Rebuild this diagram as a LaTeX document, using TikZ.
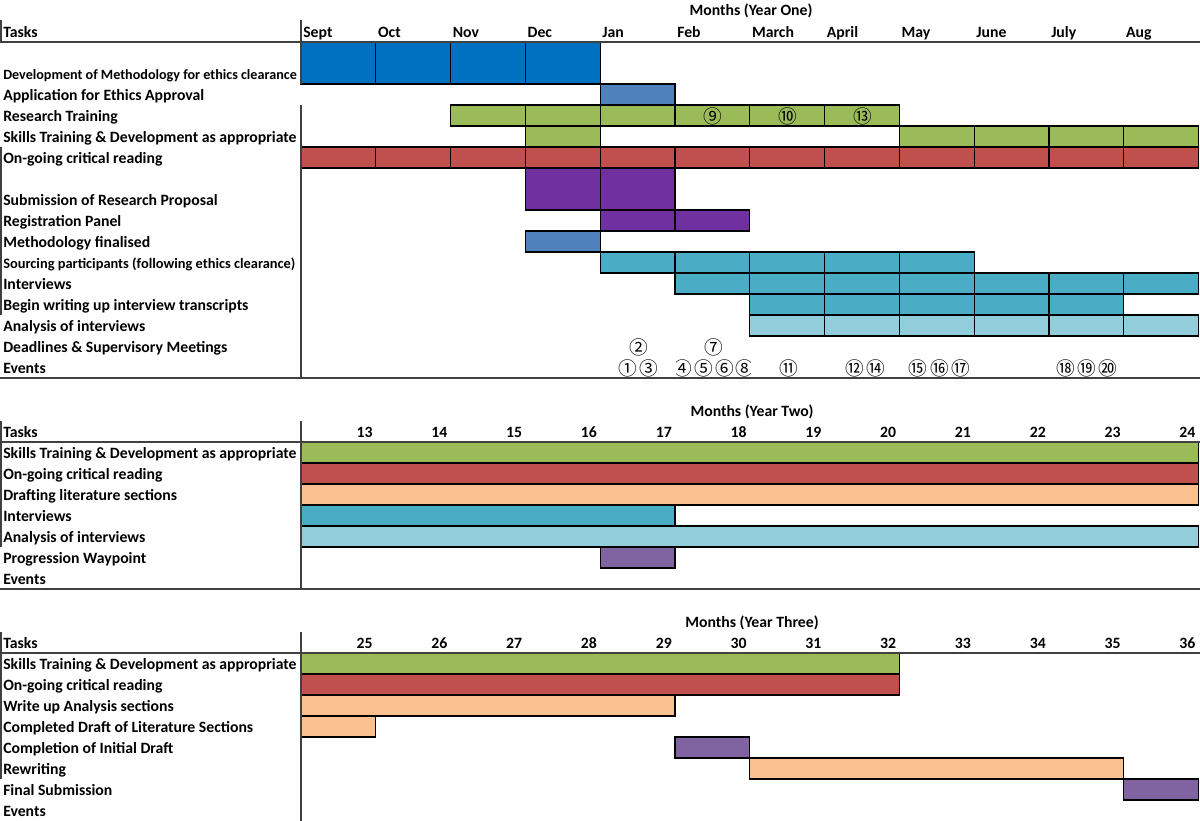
\documentclass[tikz,border=0pt]{standalone}
\usepackage{fontspec}
\setmainfont{Carlito}
\newfontfamily\circfont{Noto Sans CJK SC}
\definecolor{cDblue}{HTML}{0070C0}
\definecolor{cMblue}{HTML}{4F81BD}
\definecolor{cGreen}{HTML}{9BBB59}
\definecolor{cRed}{HTML}{C0504D}
\definecolor{cPurple}{HTML}{7030A0}
\definecolor{cTeal}{HTML}{4BACC6}
\definecolor{cLteal}{HTML}{92CDDC}
\definecolor{cPeach}{HTML}{FAC090}
\definecolor{cLav}{HTML}{8064A2}
\definecolor{cRule}{HTML}{404040}
\newcommand\ycells[5]{%
  \foreach \m in {#2,...,#3}{\draw[bar,fill=#1] ({301+74.8*\m},#4) rectangle ({301+74.8*(\m+1)},#5);}}
\newcommand\ybar[5]{%
  \draw[bar,fill=#1] ({301+74.8*#2},#4) rectangle ({301+74.8*(#3+1)},#5);}
\begin{document}
\begin{tikzpicture}[x=0.75pt,y=-0.75pt,
  font=\bfseries\fontsize{11.8}{14}\selectfont,
  bar/.style={draw=black,line width=0.8pt},
  lbl/.style={anchor=base west,inner sep=0pt},
  lblsmall/.style={lbl,font=\bfseries\fontsize{10.8}{13}\selectfont},
  mon/.style={anchor=base west,inner sep=0pt},
  num/.style={anchor=base east,inner sep=0pt},
  hdr/.style={anchor=base,inner sep=0pt},
  circ/.style={font=\circfont\fontsize{14}{16}\selectfont,inner sep=0pt,anchor=center},
  rule/.style={draw=cRule,line width=1.1pt},
  vrule/.style={draw=cRule,line width=1pt}]
\useasboundingbox (0,0) rectangle (1200,821);

% ---------------- Year One ----------------
\ycells{cDblue}{0}{3}{42}{84}
\ycells{cMblue}{4}{4}{84}{105}
\ycells{cGreen}{2}{7}{105}{126}
\ycells{cGreen}{3}{3}{126}{147}
\ycells{cGreen}{8}{11}{126}{147}
\ycells{cRed}{0}{11}{147}{168}
\ycells{cPurple}{3}{4}{168}{210}
\ycells{cPurple}{4}{5}{210}{231}
\ycells{cMblue}{3}{3}{231}{252}
\ycells{cTeal}{4}{8}{252}{273}
\ycells{cTeal}{5}{11}{273}{294}
\ycells{cTeal}{6}{10}{294}{315}
\ycells{cLteal}{6}{11}{315}{336}

\draw[rule] (0,42) -- (1200,42);
\draw[rule] (0,378) -- (1200,378);
\draw[vrule] (301,20) -- (301,84);
\draw[vrule] (301,105) -- (301,378);
\draw[vrule] (1,20) -- (1,42);
\draw[vrule] (1,147) -- (1,315);

\node[hdr] (h1) at (751,16) {Months (Year One)};
\node[lbl] (t1) at (3,37) {Tasks};
\foreach \n [count=\i from 0] in {Sept,Oct,Nov,Dec,Jan,Feb,March,April,May,June,July,Aug}
  \node[mon] (m1-\i) at ({303+74.8*\i},37) {\n};

\node[lblsmall,font=\bfseries\fontsize{10.6}{13}\selectfont] (a1) at (3,79) {Development of Methodology for ethics clearance};
\node[lbl] (a2) at (3,100) {Application for Ethics Approval};
\node[lbl] (a3) at (3,121) {Research Training};
\node[lbl] (a4) at (3,142) {Skills Training \& Development as appropriate};
\node[lbl] (a5) at (3,163) {On-going critical reading};
\node[lbl] (a6) at (3,205) {Submission of Research Proposal};
\node[lbl] (a7) at (3,226) {Registration Panel};
\node[lbl] (a8) at (3,247) {Methodology finalised};
\node[lblsmall] (a9) at (3,268) {Sourcing participants (following ethics clearance)};
\node[lbl] (a10) at (3,289) {Interviews};
\node[lbl] (a11) at (3,310) {Begin writing up interview transcripts};
\node[lbl] (a12) at (3,331) {Analysis of interviews};
\node[lbl] (a13) at (3,352) {Deadlines \& Supervisory Meetings};
\node[lbl] (a14) at (3,373) {Events};

\node[circ] (c9) at (713,116) {⑨};
\node[circ] (c10) at (788,116) {⑩};
\node[circ] (c13) at (863,116) {⑬};
\node[circ] (c2) at (639,347) {②};
\node[circ] (c7) at (714,347) {⑦};
\node[circ] (c1) at (628,368) {①};
\node[circ] (c3) at (649,368) {③};
\begin{scope}
\clip (676,357) rectangle (750,378);
\node[circ] (c4) at (683,368) {④};
\node[circ] (c5) at (703.5,368) {⑤};
\node[circ] (c6) at (724.5,368) {⑥};
\node[circ] (c8) at (745,368) {⑧};
\end{scope}
\node[circ] (c11) at (789,368) {⑪};
\node[circ] (c12) at (855,368) {⑫};
\node[circ] (c14) at (876,368) {⑭};
\node[circ] (c15) at (918,368) {⑮};
\node[circ] (c16) at (939.5,368) {⑯};
\node[circ] (c17) at (961,368) {⑰};
\node[circ] (c18) at (1065.5,368) {⑱};
\node[circ] (c19) at (1086.5,368) {⑲};
\node[circ] (c20) at (1107.5,368) {⑳};

% ---------------- Year Two ----------------
\ybar{cGreen}{0}{11}{442}{463}
\ybar{cRed}{0}{11}{463}{484}
\ybar{cPeach}{0}{11}{484}{505}
\ybar{cTeal}{0}{4}{505}{526}
\ybar{cLteal}{0}{11}{526}{547}
\ybar{cLav}{4}{4}{547}{568}

\draw[rule] (0,442) -- (1200,442);
\draw[rule] (0,589) -- (1200,589);
\draw[vrule] (301,421) -- (301,589);
\draw[vrule] (1,421) -- (1,547);

\node[hdr] (h2) at (752,416) {Months (Year Two)};
\node[lbl] (t2) at (3,437) {Tasks};
\foreach \i in {1,...,12}
  \node[num] (m2-\i) at ({298+74.8*\i},437) {\the\numexpr\i+12\relax};

\node[lbl] (b1) at (3,458) {Skills Training \& Development as appropriate};
\node[lbl] (b2) at (3,479) {On-going critical reading};
\node[lbl] (b3) at (3,500) {Drafting literature sections};
\node[lbl] (b4) at (3,521) {Interviews};
\node[lbl] (b5) at (3,542) {Analysis of interviews};
\node[lbl] (b6) at (3,563) {Progression Waypoint};
\node[lbl] (b7) at (3,584) {Events};

% ---------------- Year Three ----------------
\ybar{cGreen}{0}{7}{653}{674}
\ybar{cRed}{0}{7}{674}{695}
\ybar{cPeach}{0}{4}{695}{716}
\ybar{cPeach}{0}{0}{716}{737}
\ybar{cLav}{5}{5}{737}{758}
\ybar{cPeach}{6}{10}{758}{779}
\ybar{cLav}{11}{11}{779}{800}

\draw[rule] (0,653) -- (1200,653);
\draw[vrule] (301,632) -- (301,821);
\draw[vrule] (1,632) -- (1,779);

\node[hdr] (h3) at (752,627) {Months (Year Three)};
\node[lbl] (t3) at (3,648) {Tasks};
\foreach \i in {1,...,12}
  \node[num] (m3-\i) at ({298+74.8*\i},648) {\the\numexpr\i+24\relax};

\node[lbl] (d1) at (3,669) {Skills Training \& Development as appropriate};
\node[lbl] (d2) at (3,690) {On-going critical reading};
\node[lbl] (d3) at (3,711) {Write up Analysis sections};
\node[lbl] (d4) at (3,732) {Completed Draft of Literature Sections};
\node[lbl] (d5) at (3,753) {Completion of Initial Draft};
\node[lbl] (d6) at (3,774) {Rewriting};
\node[lbl] (d7) at (3,795) {Final Submission};
\node[lbl] (d8) at (3,816) {Events};
\end{tikzpicture}
\end{document}
